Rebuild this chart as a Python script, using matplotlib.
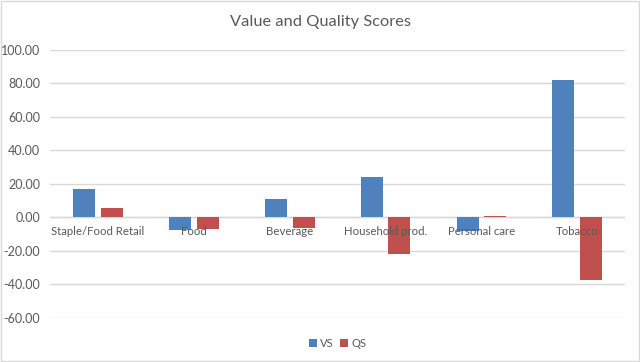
import numpy as np
import matplotlib.pyplot as plt

plt.rcParams['font.family'] = ['Lato', 'DejaVu Sans']

categories = ['Staple/Food Retail', 'Food', 'Beverage', 'Household prod.', 'Personal care', 'Tobacco']
vs = [17.0, -7.8, 10.7, 23.9, -7.9, 82.2]
qs = [5.6, -6.9, -6.3, -21.7, 1.0, -37.6]

blue = '#4F81BD'
red = '#C0504D'
txt = '#595959'

fig = plt.figure(figsize=(6.4, 3.62), dpi=100)
ax = fig.add_axes([0.078, 0.122, 0.899, 0.740])

x = np.arange(len(categories))
w = 0.23
ax.bar(x - 0.145, vs, w, color=blue, label='VS', zorder=3)
ax.bar(x + 0.145, qs, w, color=red, label='QS', zorder=3)

ax.set_xlim(-0.5, len(categories) - 0.5)
ax.set_ylim(-60, 100)
ax.set_yticks(np.arange(-60, 101, 20))
ax.set_yticklabels([f'{v:.2f}' for v in np.arange(-60, 101, 20)], color=txt, fontsize=9)
ax.grid(axis='y', color='#D9D9D9', linewidth=1, zorder=0)
ax.axhline(0, color='#D9D9D9', linewidth=1, zorder=1)
ax.set_xticks([])
ax.tick_params(axis='y', length=0, pad=7)
for s in ax.spines.values():
    s.set_visible(False)

# category labels sit just under the zero line, Excel style
for i, c in enumerate(categories):
    ax.annotate(c, (i, 0), xytext=(0, -10), textcoords='offset points',
                ha='center', va='center', fontsize=8.2, color=txt, zorder=4)

fig.text(0.5, 0.94, 'Value and Quality Scores', ha='center', va='center',
         fontsize=11.8, color=txt)

ax.legend(loc='center', bbox_to_anchor=(0.5, -0.095), ncol=2, frameon=False,
          fontsize=8, handlelength=0.7, handleheight=0.7, handletextpad=0.3,
          columnspacing=0.6, labelcolor=txt)

fig.patches.append(plt.Rectangle((0.002, 0.003), 0.996, 0.994, transform=fig.transFigure,
                                 fill=False, edgecolor='#D9D9D9', linewidth=1))

fig.savefig('out.png', dpi=100, facecolor='white')
